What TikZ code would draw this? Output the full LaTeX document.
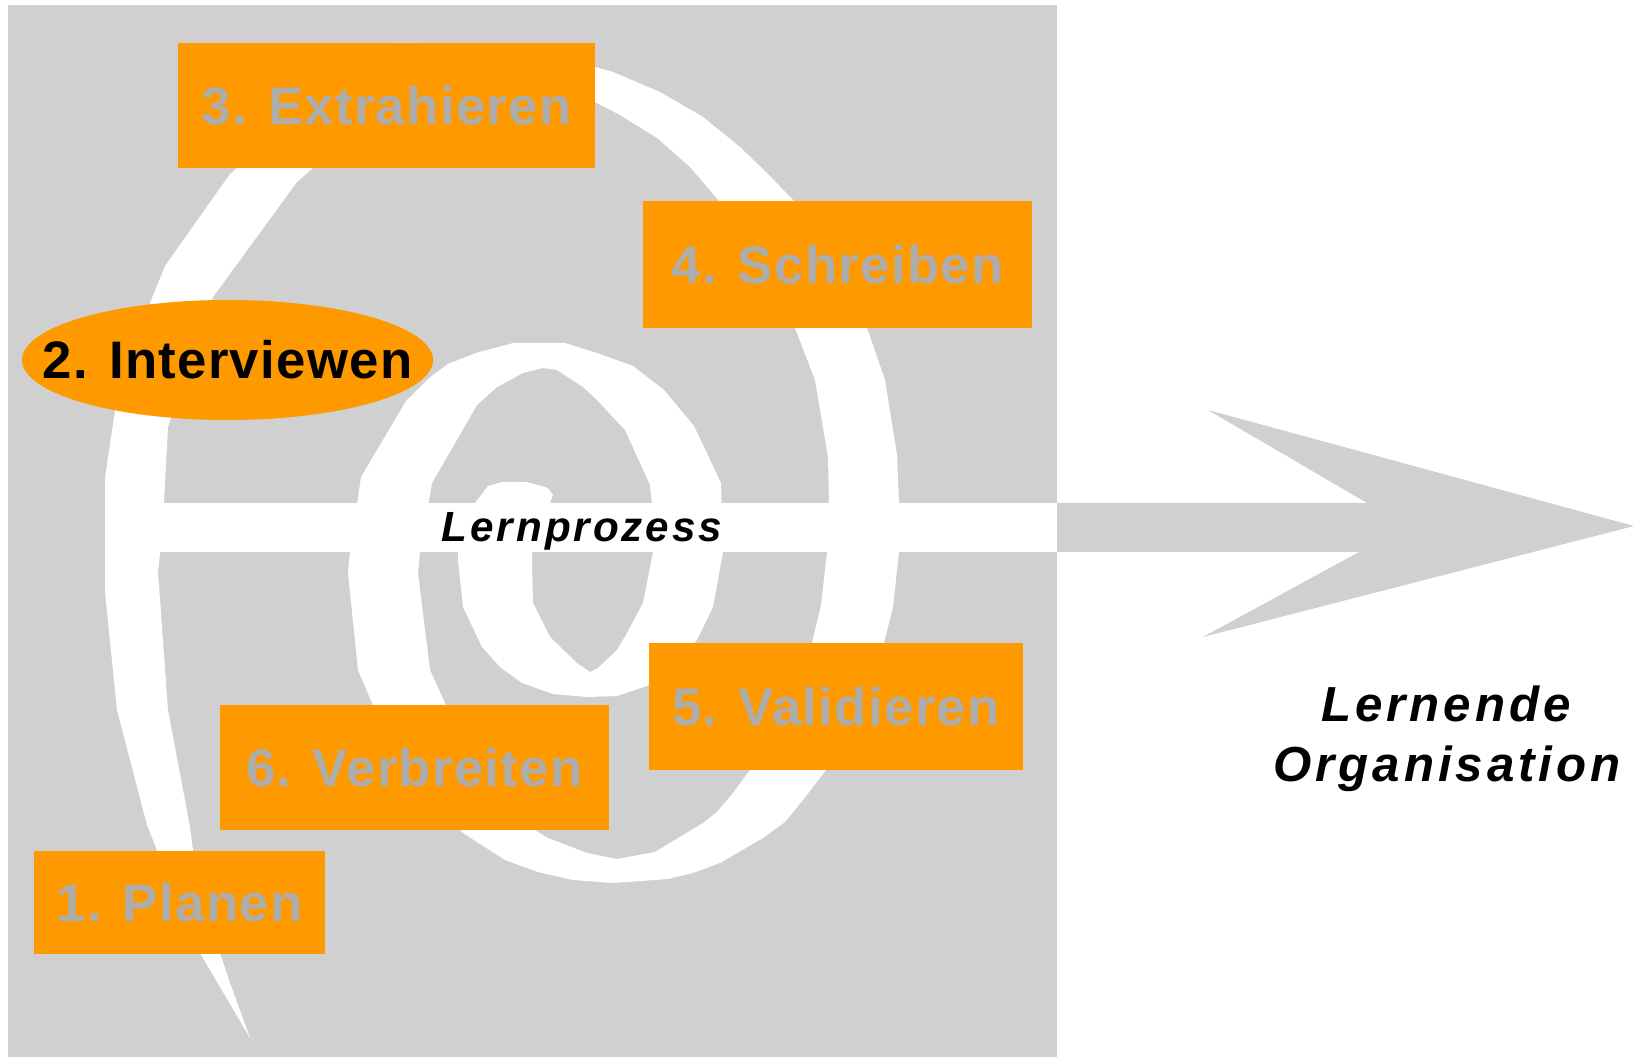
\documentclass[tikz,border=0pt]{standalone}
\usepackage{fontspec}
\setmainfont{Liberation Sans}
\usetikzlibrary{shapes.geometric}

\definecolor{bggray}{RGB}{208,208,208}
\definecolor{boxorange}{RGB}{255,153,0}
\definecolor{labelgray}{RGB}{173,173,173}

\tikzset{
  phasefont/.style={font=\bfseries\fontsize{15}{18}\selectfont\addfontfeatures{LetterSpace=2.5}},
  phase/.style={fill=boxorange, text=labelgray, inner sep=0pt, phasefont},
  proclabel/.style={inner sep=0pt, anchor=base,
    font=\bfseries\itshape\fontsize{12}{14}\selectfont\addfontfeatures{LetterSpace=7}},
  orglabel/.style={inner sep=0pt, anchor=base,
    font=\bfseries\itshape\fontsize{14}{17}\selectfont\addfontfeatures{LetterSpace=8}}
}

\begin{document}
\begin{tikzpicture}[x=0.01cm, y=-0.01cm]
  \useasboundingbox (0,0) rectangle (1642,1058);
  % grey field
  \fill[bggray] (8,5) rectangle (1057,1057);
  % spiral band
  \fill[white] (250,1038) -- (200,953) -- (157,850) -- (147,825) -- (117,710) -- (105,592)
    -- (105,478) -- (115,411) -- (150,303) -- (165,266) -- (230,174) -- (237,168) -- (280,115)
    -- (330,65) -- (360,48) -- (390,43) -- (420,43) -- (450,45) -- (510,52) -- (560,60) -- (595,67)
    -- (613,72) -- (660,92) -- (703,117) -- (740,147) -- (767,173) -- (793,200) -- (835,262)
    -- (867,328) -- (885,380) -- (897,455) -- (899,503) -- (899,552) -- (893,607) -- (884,643)
    -- (860,710) -- (826,770) -- (803,800) -- (785,822) -- (763,838) -- (720,863) -- (693,873)
    -- (668,879) -- (613,883) -- (573,880) -- (538,872) -- (505,860) -- (463,833) -- (425,798)
    -- (395,757) -- (372,703) -- (358,670) -- (348,573) -- (350,552) -- (361,477) -- (406,401)
    -- (429,378) -- (448,364) -- (476,353) -- (513,343) -- (565,343) -- (597,353) -- (633,366)
    -- (664,390) -- (694,426) -- (721,483) -- (723,552) -- (713,607) -- (697,640) -- (672,668)
    -- (647,686) -- (617,696) -- (587,697) -- (553,694) -- (522,683) -- (500,667) -- (482,647)
    -- (463,607) -- (458,560) -- (458,552) -- (475,503) -- (488,486) -- (502,482) -- (527,482)
    -- (548,488) -- (553,495) -- (550,503)
    -- (532,552) -- (532,560) -- (533,603) -- (550,637) -- (577,663) -- (590,672) -- (598,668)
    -- (617,650) -- (627,633) -- (643,603) -- (653,552) -- (652,503) -- (650,485) -- (625,430)
    -- (597,400) -- (583,387) -- (557,370) -- (543,368) -- (523,373) -- (497,387) -- (477,405)
    -- (432,483) -- (420,552) -- (418,573) -- (430,670) -- (445,703) -- (470,760) -- (500,800)
    -- (538,832) -- (548,838) -- (587,853) -- (617,859) -- (655,852) -- (683,835) -- (703,823)
    -- (717,812) -- (733,793) -- (750,770) -- (785,710) -- (812,643) -- (821,605) -- (827,552)
    -- (829,503) -- (828,457) -- (815,380) -- (795,328) -- (765,262) -- (720,202) -- (690,167)
    -- (657,138) -- (620,115) -- (595,102) -- (560,90) -- (500,82) -- (440,83) -- (400,95)
    -- (370,112) -- (340,140) -- (313,168) -- (297,182) -- (213,297) -- (168,427) -- (164,503)
    -- (160,553) -- (158,572) -- (168,710) -- (190,827) -- (193,850) -- (220,953) -- (230,983)
    -- cycle;
  % process bar and arrow
  \fill[white] (158,503) rectangle (1057,552);
  \fill[bggray] (1057,503) -- (1367,503) -- (1208,410) -- (1634,526) -- (1203,637)
    -- (1359,552) -- (1057,552) -- cycle;

  % phases
  \node[phase, minimum width=2.91cm, minimum height=1.03cm] (plan) at (179.5,902.5) {1. Planen};
  \node[ellipse, fill=boxorange, inner sep=0pt, minimum width=4.11cm, minimum height=1.2cm,
    label={[phasefont, text=black]center:2. Interviewen}] (intv) at (227.5,360) {};
  \node[phase, minimum width=4.17cm, minimum height=1.25cm] (extr) at (386.5,105.5) {3. Extrahieren};
  \node[phase, minimum width=3.89cm, minimum height=1.27cm] (schr) at (837.5,264.5) {4. Schreiben};
  \node[phase, minimum width=3.74cm, minimum height=1.27cm] (vali) at (836,706.5) {5. Validieren};
  \node[phase, minimum width=3.89cm, minimum height=1.25cm] (verb) at (414.5,767.5) {6. Verbreiten};

  \node[proclabel] (proz) at (582,542) {Lernprozess};
  \node[orglabel] (lern) at (1446,721) {Lernende};
  \node[orglabel] (orga) at (1447,781) {Organisation};
\end{tikzpicture}
\end{document}
